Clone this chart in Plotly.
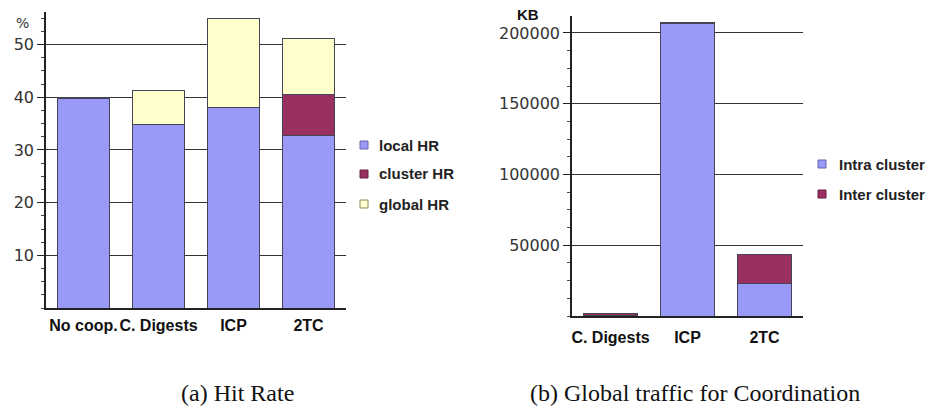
import plotly.graph_objects as go

W, H = 926, 410

# ---- data (a) Hit Rate ----
cats_a = ["No coop.", "C. Digests", "ICP", "2TC"]
local_hr = [39.7, 34.8, 38.0, 32.8]
cluster_hr = [0.0, 0.0, 0.0, 7.7]
global_hr = [0.3, 6.5, 17.0, 10.7]
ticks_a = [10, 20, 30, 40, 50]

# ---- data (b) Global traffic ----
cats_b = ["C. Digests", "ICP", "2TC"]
intra = [300, 206500, 23000]
inter = [1200, 800, 20800]
ticks_b = [50000, 100000, 150000, 200000]

C_LOCAL = "#9999f8"
C_CLUSTER = "#993060"
C_GLOBAL = "#ffffcc"
EDGE = "#444455"
FONT = "DejaVu Sans"
BFONT = "Liberation Sans"


def px(x):
    return x / W


def py(y):
    return 1 - y / H


fig = go.Figure()

for name, vals, col in [("local HR", local_hr, C_LOCAL),
                        ("cluster HR", cluster_hr, C_CLUSTER),
                        ("global HR", global_hr, C_GLOBAL)]:
    fig.add_trace(go.Bar(x=cats_a, y=vals, name=name, marker=dict(color=col, line=dict(color=EDGE, width=1)),
                         width=0.69, xaxis="x", yaxis="y", showlegend=False))

for name, vals, col in [("Intra cluster", intra, C_LOCAL),
                        ("Inter cluster", inter, C_CLUSTER)]:
    fig.add_trace(go.Bar(x=cats_b, y=vals, name=name, marker=dict(color=col, line=dict(color=EDGE, width=1)),
                         width=0.69, xaxis="x2", yaxis="y2", showlegend=False))

common_y = dict(showline=True, linecolor="#222", linewidth=1.5, showgrid=True, gridcolor="#333", gridwidth=1,
                ticks="outside", ticklen=7, tickcolor="#222", tickwidth=1, tickformat="d",
                tickfont=dict(family=FONT, size=16, color="#333"), zeroline=False)
common_x = dict(showline=True, linecolor="#222", linewidth=2, ticks="", showgrid=False, tickangle=0,
                tickfont=dict(family=BFONT, size=16, color="#111", weight="bold"))

fig.update_layout(
    width=W, height=H, margin=dict(l=0, r=0, t=0, b=0),
    paper_bgcolor="white", plot_bgcolor="white", barmode="stack", bargap=0.3,
    showlegend=False,
    xaxis=dict(domain=[px(46), px(346)], range=[-0.5, 3.5], anchor="y", ticklabelstandoff=2, **common_x),
    yaxis=dict(domain=[py(308), py(12)], range=[0, 56.2], tickvals=ticks_a, anchor="x",
               minor=dict(ticks="outside", ticklen=3, tickcolor="#444", dtick=2.5, tick0=0, showgrid=False),
               **common_y),
    xaxis2=dict(domain=[px(572), px(803)], range=[-0.5, 2.5], anchor="y2", ticklabelstandoff=6, **common_x),
    yaxis2=dict(domain=[py(316), py(16)], range=[0, 212000], tickvals=ticks_b, anchor="x2",
                minor=dict(ticks="outside", ticklen=3, tickcolor="#444", dtick=12500, tick0=0, showgrid=False),
                **common_y),
)

ann = []
shapes = []


def text(t, x, y, size, family=FONT, color="#222", xanchor="center"):
    ann.append(dict(text=t, x=px(x), y=py(y), xref="paper", yref="paper", showarrow=False,
                    xanchor=xanchor, yanchor="middle", font=dict(family=family, size=size, color=color)))


# axis unit labels
text("%", 22, 23, 14, color="#333")
text("<b>KB</b>", 528, 14, 15, family=BFONT, color="#111")


def legend(items, x_sq, x_txt, ys, size):
    for (name, col, edge), yy in zip(items, ys):
        shapes.append(dict(type="rect", xref="paper", yref="paper",
                           x0=px(x_sq - 4), x1=px(x_sq + 4), y0=py(yy + 4), y1=py(yy - 4),
                           fillcolor=col, line=dict(color=edge, width=1)))
        text("<b>" + name + "</b>", x_txt, yy, size, family=BFONT, xanchor="left")


legend([("local HR", C_LOCAL, "#6666aa"), ("cluster HR", C_CLUSTER, "#662040"), ("global HR", C_GLOBAL, "#888866")],
       364, 377, [145, 174, 204], 15)
legend([("Intra cluster", C_LOCAL, "#6666aa"), ("Inter cluster", C_CLUSTER, "#662040")],
       822, 837, [164, 194], 15)

# captions
text("(a) Hit Rate", 237, 393, 24, family="Liberation Serif", color="#111")
text("(b) Global traffic for Coordination", 695, 393, 24, family="Liberation Serif", color="#111")

fig.update_layout(annotations=ann, shapes=shapes)
fig.write_html("out.html", config={"displayModeBar": False},
               post_script="document.body.style.margin='0';")
